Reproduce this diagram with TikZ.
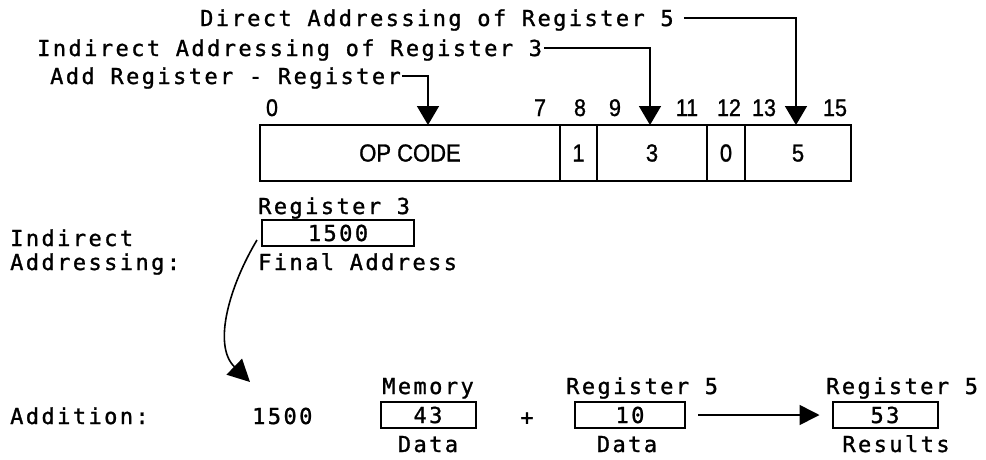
\documentclass[tikz,border=0pt]{standalone}
\usepackage{fontspec}
\setmainfont{DejaVu Sans Mono}[LetterSpace=11,FakeBold=1.2]
\newfontfamily\bitfont{Liberation Sans}[FakeBold=1.1]
\usetikzlibrary{arrows.meta}
\newcommand{\tallbit}[1]{\scalebox{1}[1.12]{#1}}
\tikzset{
  mono/.style={font=\fontsize{22pt}{26pt}\selectfont, inner sep=0pt, text height=16pt, text depth=0pt},
  bitnum/.style={font=\bitfont\fontsize{21.5pt}{24pt}\selectfont, inner sep=0pt, text height=15pt, text depth=0pt, anchor=base},
  field/.style={draw, line width=2.4pt, font=\bitfont\fontsize{22pt}{26pt}\selectfont, inner sep=0pt, minimum height=56pt, text height=17pt, text depth=0pt},
  regbox/.style={draw, line width=2pt, mono, minimum height=26pt},
  conn/.style={line width=1.6pt},
  tri/.style={-{Triangle[width=22pt,length=19pt]}},
  trib/.style={-{Triangle[width=20pt,length=20pt]}},
}
\begin{document}
\begin{tikzpicture}[x=1pt,y=-1pt]
\useasboundingbox (0,0) rectangle (986,459);
% top labels
\node[mono, anchor=base west] (l1) at (200,26) {Direct Addressing of Register 5};
\node[mono, anchor=base west] (l2) at (37,56) {Indirect Addressing of Register 3};
\node[mono, anchor=base west] (l3) at (50,84) {Add Register - Register};
% instruction word
\node[field, minimum width=300pt] (op) at (410,153) {\tallbit{OP CODE}};
\node[field, minimum width=37pt] (f1) at (578.5,153) {\tallbit{1}};
\node[field, minimum width=110pt] (f3) at (652,153) {\tallbit{3}};
\node[field, minimum width=38pt] (f0) at (726,153) {\tallbit{0}};
\node[field, minimum width=106pt] (f5) at (798,153) {\tallbit{5}};
% bit numbers
\node[bitnum] (b0) at (272,116) {\tallbit{0}};
\node[bitnum] (b7) at (540,116) {\tallbit{7}};
\node[bitnum] (b8) at (580,116) {\tallbit{8}};
\node[bitnum] (b9) at (615,116) {\tallbit{9}};
\node[bitnum] (b11) at (687,116) {\tallbit{11}};
\node[bitnum] (b12) at (729,116) {\tallbit{12}};
\node[bitnum] (b13) at (764,116) {\tallbit{13}};
\node[bitnum] (b15) at (835,116) {\tallbit{15}};
% arrow targets
\coordinate (t5) at (796,125);
\coordinate (t3) at (650,125);
\coordinate (top) at (428,125);
\draw[conn,tri] ([xshift=10pt]l1.east) -| (t5);
\draw[conn,tri] ([xshift=2pt]l2.east) -| (t3);
\draw[conn,tri] ([xshift=1pt]l3.east) -| (top);
% indirect addressing
\node[mono, anchor=base west] (ia1) at (10,246) {Indirect};
\node[mono, anchor=base west] (ia2) at (10,270) {Addressing:};
\node[mono, anchor=base west] (r3l) at (258,214) {Register 3};
\node[regbox, minimum width=152pt] (r3) at (338,233) {1500};
\node[mono, anchor=base west] (fa) at (258,270) {Final Address};
\coordinate (cstart) at (257,240);
\coordinate (cend) at (250,382);
\draw[conn,-{Triangle[width=22pt,length=22pt]}] (cstart) .. controls (230,285) and (212,345) .. (cend);
% addition
\node[mono, anchor=base west] (add) at (10,424) {Addition:};
\node[mono, anchor=base west] (addr) at (252,424) {1500};
\node[regbox, minimum width=95pt] (mem) at (428,415) {43};
\node[mono, anchor=base] (meml) at (428,394) {Memory};
\node[mono, anchor=base] (memd) at (428,452) {Data};
\node[mono] (plus) at (527,417) {+};
\node[regbox, minimum width=110pt] (r5) at (630,415) {10};
\node[mono, anchor=base west] (r5l) at (566,394) {Register 5};
\node[mono, anchor=base] (r5d) at (627,452) {Data};
\node[regbox, minimum width=105pt] (res) at (885,415) {53};
\node[mono, anchor=base west] (resl) at (826,394) {Register 5};
\node[mono, anchor=base] (resd) at (896,452) {Results};
\draw[conn,trib] ([xshift=12pt]r5.east) -- ([xshift=-12pt]res.west);
\end{tikzpicture}
\end{document}
